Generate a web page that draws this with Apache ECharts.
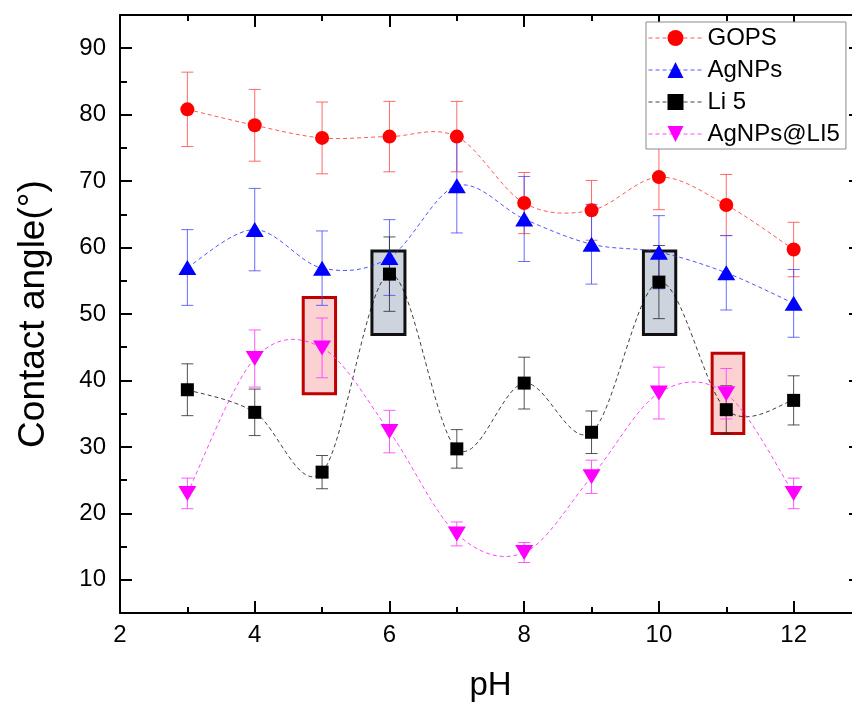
<!DOCTYPE html>
<html>
<head>
<meta charset="utf-8">
<script src="https://cdn.jsdelivr.net/npm/echarts@6/dist/echarts.min.js"></script>
<style>
html,body{margin:0;padding:0;background:#fff;}
#chart{width:852px;height:705px;}
</style>
</head>
<body>
<div id="chart"></div>
<script>
// ---- data ----
const pH = [3, 4, 5, 6, 7, 8, 9, 10, 11, 12];
const gops = [80.8, 78.4, 76.5, 76.7, 76.7, 66.7, 65.6, 70.6, 66.4, 59.7];
const gopsErr = [5.6, 5.4, 5.4, 5.3, 5.3, 4.6, 4.5, 4.9, 4.6, 4.1];
const agnps = [57.0, 62.7, 56.9, 58.5, 69.3, 64.3, 60.5, 59.3, 56.2, 51.6];
const agnpsErr = [5.7, 6.2, 5.6, 5.7, 7.1, 6.4, 6.0, 5.5, 5.6, 5.1];
const li5 = [38.6, 35.2, 26.2, 56.0, 29.7, 39.6, 32.2, 54.8, 35.6, 37.0];
const li5Err = [3.9, 3.5, 2.5, 5.6, 2.9, 3.9, 3.2, 5.5, 3.6, 3.7];
const agli = [23.0, 43.3, 44.9, 32.3, 16.9, 14.1, 25.5, 38.1, 38.0, 23.0];
const agliErr = [2.3, 4.3, 4.5, 3.2, 1.8, 1.5, 2.5, 3.9, 3.8, 2.3];
const seriesNames = ['GOPS', 'AgNPs', 'Li 5', 'AgNPs@LI5'];
const xTickLabels = [2, 4, 6, 8, 10, 12];
const xMinorTicks = [3, 5, 7, 9, 11, 13];
const yTickLabels = [10, 20, 30, 40, 50, 60, 70, 80, 90];
const yMinorTicks = [15, 25, 35, 45, 55, 65, 75, 85];
// highlight boxes: [pH from, pH to, angle from, angle to]
const redBoxes = [[4.72, 5.2, 38.0, 52.5], [10.79, 11.26, 32.0, 44.1]];
const grayBoxes = [[5.74, 6.23, 46.9, 59.5], [9.77, 10.25, 46.9, 59.5]];

const FONT = "'Liberation Sans', Arial, sans-serif";
const pts = (ys) => pH.map((x, i) => [x, ys[i]]);
const errs = (ys, es) => pH.map((x, i) => [x, ys[i] - es[i], ys[i] + es[i]]);

function errRender(color) {
  return function (params, api) {
    const x = api.value(0), lo = api.value(1), hi = api.value(2);
    const t = api.coord([x, hi]), b = api.coord([x, lo]);
    const hw = 6;
    const style = { stroke: color, lineWidth: 1, fill: null };
    return { type: 'group', children: [
      { type: 'line', shape: { x1: t[0], y1: t[1], x2: b[0], y2: b[1] }, style: style },
      { type: 'line', shape: { x1: t[0] - hw, y1: t[1], x2: t[0] + hw, y2: t[1] }, style: style },
      { type: 'line', shape: { x1: b[0] - hw, y1: b[1], x2: b[0] + hw, y2: b[1] }, style: style }
    ]};
  };
}
function boxRender(fill, stroke) {
  return function (params, api) {
    const p0 = api.coord([api.value(0), api.value(3)]);
    const p1 = api.coord([api.value(1), api.value(2)]);
    return { type: 'rect', shape: { x: p0[0], y: p0[1], width: p1[0] - p0[0], height: p1[1] - p0[1] },
      style: { fill: fill, stroke: stroke, lineWidth: 3 } };
  };
}
// spline segment (Catmull-Rom through the data points, positions from the axis scales)
function curveRender(ys, color) {
  return function (params, api) {
    const i = params.dataIndex;
    if (i >= pH.length - 1) return null;
    const c = (k) => api.coord([pH[Math.max(0, Math.min(pH.length - 1, k))], ys[Math.max(0, Math.min(pH.length - 1, k))]]);
    const p0 = c(i - 1), p1 = c(i), p2 = c(i + 1), p3 = c(i + 2);
    const cp1 = [p1[0] + (p2[0] - p0[0]) / 6, p1[1] + (p2[1] - p0[1]) / 6];
    const cp2 = [p2[0] - (p3[0] - p1[0]) / 6, p2[1] - (p3[1] - p1[1]) / 6];
    return { type: 'bezierCurve', shape: { x1: p1[0], y1: p1[1], x2: p2[0], y2: p2[1],
        cpx1: cp1[0], cpy1: cp1[1], cpx2: cp2[0], cpy2: cp2[1] },
      style: { stroke: color, lineWidth: 1, fill: null, lineDash: [4, 3] } };
  };
}

const colors = ['#ff0000', '#0000ff', '#000000', '#ff00ff'];
const lineColors = ['rgba(255,60,60,0.85)', 'rgba(40,40,255,0.8)', 'rgba(0,0,0,0.75)', 'rgba(255,40,255,0.85)'];
const errColors = ['rgba(255,80,80,0.85)', 'rgba(70,70,255,0.8)', 'rgba(40,40,40,0.8)', 'rgba(255,60,255,0.85)'];
const symbols = ['circle', 'triangle', 'rect', 'triangle'];
const symSizes = [14, [18, 15], 13, [18, 15]];
const rotates = [0, 0, 0, 180];
const values = [gops, agnps, li5, agli];
const errors = [gopsErr, agnpsErr, li5Err, agliErr];

const series = [];
series.push({ type: 'custom', name: 'redbox', xAxisIndex: 0, yAxisIndex: 0, z: 1, silent: true,
  renderItem: boxRender('rgba(250,190,190,0.7)', '#c00000'), data: redBoxes, encode: { x: [0, 1], y: [2, 3] } });
series.push({ type: 'custom', name: 'graybox', xAxisIndex: 0, yAxisIndex: 0, z: 1, silent: true,
  renderItem: boxRender('rgba(185,194,206,0.7)', '#111111'), data: grayBoxes, encode: { x: [0, 1], y: [2, 3] } });
for (let i = 0; i < 4; i++) {
  series.push({ type: 'custom', name: seriesNames[i] + ' curve', xAxisIndex: 0, yAxisIndex: 0, z: 2, silent: true,
    renderItem: curveRender(values[i], lineColors[i]), data: pts(values[i]), encode: { x: 0, y: 1 }, clip: false });
  series.push({ type: 'custom', name: seriesNames[i] + ' err', xAxisIndex: 0, yAxisIndex: 0, z: 2, silent: true,
    renderItem: errRender(errColors[i]), data: errs(values[i], errors[i]), encode: { x: 0, y: [1, 2] } });
}
for (let i = 0; i < 4; i++) {
  series.push({ type: 'line', name: seriesNames[i], xAxisIndex: 0, yAxisIndex: 0, z: 3,
    data: pts(values[i]), symbol: symbols[i], symbolSize: symSizes[i], symbolRotate: rotates[i],
    showAllSymbol: true,
    itemStyle: { color: colors[i], opacity: 1 },
    lineStyle: { color: lineColors[i], width: 1, type: [4, 3], opacity: 0 },
    emphasis: { disabled: true } });
}

const axisLineStyle = { color: '#000', width: 2 };
const option = {
  animation: false,
  backgroundColor: '#fff',
  grid: { left: 120, top: 15, width: 741, height: 598, containLabel: false, outerBoundsMode: 'none' },
  legend: {
    data: seriesNames,
    orient: 'vertical', left: 646, top: 22,
    itemWidth: 54, itemHeight: 20, itemGap: 8,
    padding: [4, 6, 3, 2],
    borderColor: '#8a8a8a', borderWidth: 1, backgroundColor: '#fff',
    lineStyle: { opacity: 1, width: 1, type: [4, 3] },
    textStyle: { fontFamily: FONT, fontSize: 24, color: '#000', lineHeight: 22 },
    selectedMode: false
  },
  xAxis: [
    { type: 'value', position: 'bottom', min: 2, max: 13, gridIndex: 0,
      name: 'pH', nameLocation: 'middle', nameGap: 56,
      nameTextStyle: { fontFamily: FONT, fontSize: 33, color: '#000' },
      axisLine: { show: true, onZero: false, lineStyle: axisLineStyle },
      axisTick: { show: true, inside: true, length: 12, customValues: xTickLabels, lineStyle: { color: '#000', width: 2 } },
      axisLabel: { show: true, customValues: xTickLabels, margin: 10, fontFamily: FONT, fontSize: 24, color: '#000' },
      splitLine: { show: false } },
    { type: 'value', position: 'bottom', min: 2, max: 13, gridIndex: 0,
      axisLine: { show: false, onZero: false },
      axisTick: { show: true, inside: true, length: 6, customValues: xMinorTicks, lineStyle: { color: '#000', width: 2 } },
      axisLabel: { show: false }, splitLine: { show: false } },
    { type: 'value', position: 'top', min: 2, max: 13, gridIndex: 0,
      axisLine: { show: true, onZero: false, lineStyle: axisLineStyle },
      axisTick: { show: true, inside: true, length: 12, customValues: xTickLabels, lineStyle: { color: '#000', width: 2 } },
      axisLabel: { show: false }, splitLine: { show: false } },
    { type: 'value', position: 'top', min: 2, max: 13, gridIndex: 0,
      axisLine: { show: false, onZero: false },
      axisTick: { show: true, inside: true, length: 6, customValues: xMinorTicks, lineStyle: { color: '#000', width: 2 } },
      axisLabel: { show: false }, splitLine: { show: false } }
  ],
  yAxis: [
    { type: 'value', position: 'left', min: 5, max: 95, gridIndex: 0,
      name: 'Contact angle(°)', nameLocation: 'middle', nameGap: 68,
      nameTextStyle: { fontFamily: FONT, fontSize: 37, color: '#000' },
      axisLine: { show: true, onZero: false, lineStyle: axisLineStyle },
      axisTick: { show: true, inside: true, length: 12, customValues: yTickLabels, lineStyle: { color: '#000', width: 2 } },
      axisLabel: { show: true, customValues: yTickLabels, margin: 14, fontFamily: FONT, fontSize: 24, color: '#000' },
      splitLine: { show: false } },
    { type: 'value', position: 'left', min: 5, max: 95, gridIndex: 0,
      axisLine: { show: false, onZero: false },
      axisTick: { show: true, inside: true, length: 7, customValues: yMinorTicks, lineStyle: { color: '#000', width: 2 } },
      axisLabel: { show: false }, splitLine: { show: false } },
    { type: 'value', position: 'right', min: 5, max: 95, gridIndex: 0,
      axisLine: { show: true, onZero: false, lineStyle: axisLineStyle },
      axisTick: { show: true, inside: true, length: 12, customValues: yTickLabels, lineStyle: { color: '#000', width: 2 } },
      axisLabel: { show: false }, splitLine: { show: false } }
  ],
  series: series
};
const chart = echarts.init(document.getElementById('chart'), null, { renderer: 'canvas' });
chart.setOption(option);
</script>
</body>
</html>
